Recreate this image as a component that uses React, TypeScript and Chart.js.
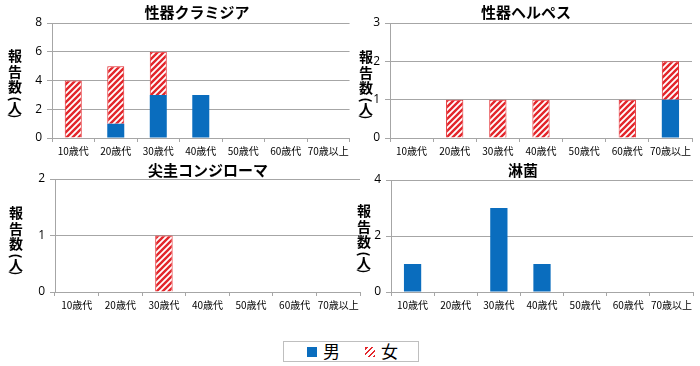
import React, { useEffect, useRef } from 'react';
import { Chart, registerables } from 'chart.js';

Chart.register(...registerables);

// ---- data ----
const AGE_LABELS = ['10歳代', '20歳代', '30歳代', '40歳代', '50歳代', '60歳代', '70歳以上'];
const SERIES_NAMES = ['男', '女'];
// vertical axis title "報告数（人）", drawn one character per row
const Y_TITLE_CHARS = ['報', '告', '数', '(', '人', ')'];

const CHLAMYDIA_TITLE = '性器クラミジア';
const CHLAMYDIA_MALE = [0, 1, 3, 3, 0, 0, 0];
const CHLAMYDIA_FEMALE = [4, 4, 3, 0, 0, 0, 0];

const HERPES_TITLE = '性器ヘルペス';
const HERPES_MALE = [0, 0, 0, 0, 0, 0, 1];
const HERPES_FEMALE = [0, 1, 1, 1, 0, 1, 1];

const CONDYLOMA_TITLE = '尖圭コンジローマ';
const CONDYLOMA_MALE = [0, 0, 0, 0, 0, 0, 0];
const CONDYLOMA_FEMALE = [0, 0, 1, 0, 0, 0, 0];

const GONORRHEA_TITLE = '淋菌';
const GONORRHEA_MALE = [1, 0, 3, 1, 0, 0, 0];
const GONORRHEA_FEMALE = [0, 0, 0, 0, 0, 0, 0];

const Y_MAXES = [8, 3, 2, 4];
const Y_STEPS = [2, 1, 1, 2];

// ---- styles ----
const BLUE = '#0A6DBE';
const RED = '#E3262B';
const GRID = '#A6A6A6';
const CJK = '"Noto Sans CJK JP", "Noto Sans", sans-serif';

const PANELS = [
  { title: CHLAMYDIA_TITLE, male: CHLAMYDIA_MALE, female: CHLAMYDIA_FEMALE, left: 0, top: 0, width: 352, height: 162, axisX: 52, plotTop: 23, plotBottom: 138, plotRight: 350, titleX: 197, titleY: 12, yTitleX: 15, yTitleY: 56 },
  { title: HERPES_TITLE, male: HERPES_MALE, female: HERPES_FEMALE, left: 350, top: 0, width: 350, height: 162, axisX: 40, plotTop: 23, plotBottom: 138, plotRight: 342, titleX: 176, titleY: 12, yTitleX: 16, yTitleY: 57 },
  { title: CONDYLOMA_TITLE, male: CONDYLOMA_MALE, female: CONDYLOMA_FEMALE, left: 0, top: 160, width: 362, height: 160, axisX: 55, plotTop: 19, plotBottom: 132, plotRight: 360, titleX: 208, titleY: 10, yTitleX: 16, yTitleY: 53 },
  { title: GONORRHEA_TITLE, male: GONORRHEA_MALE, female: GONORRHEA_FEMALE, left: 350, top: 160, width: 350, height: 160, axisX: 41, plotTop: 20, plotBottom: 132, plotRight: 343, titleX: 173, titleY: 10, yTitleX: 14, yTitleY: 51 },
];

function makeHatch(): CanvasPattern | string {
  const c = document.createElement('canvas');
  const n = 6;
  c.width = n;
  c.height = n;
  const ctx = c.getContext('2d');
  if (!ctx) return RED;
  ctx.fillStyle = '#ffffff';
  ctx.fillRect(0, 0, n, n);
  ctx.strokeStyle = RED;
  ctx.lineWidth = 2.4;
  ctx.beginPath();
  ctx.moveTo(-1, n + 1);
  ctx.lineTo(n + 1, -1);
  ctx.moveTo(-1, 1);
  ctx.lineTo(1, -1);
  ctx.moveTo(n - 1, n + 1);
  ctx.lineTo(n + 1, n - 1);
  ctx.stroke();
  const p = ctx.createPattern(c, 'repeat');
  return p || RED;
}

function Panel({ idx }: { idx: number }) {
  const ref = useRef<HTMLCanvasElement>(null);
  const p = PANELS[idx];
  useEffect(() => {
    if (!ref.current) return;
    const hatch = makeHatch();
    const textPlugin = {
      id: 'panelText',
      afterDraw(chart: any) {
        const ctx = chart.ctx;
        ctx.save();
        ctx.fillStyle = '#000';
        ctx.textAlign = 'center';
        ctx.textBaseline = 'middle';
        ctx.font = `bold 15px ${CJK}`;
        ctx.fillText(p.title, p.titleX, p.titleY);
        const offs = [0, 15.5, 31, 43, 52, 60];
        Y_TITLE_CHARS.forEach((ch, i) => {
          const y = p.yTitleY + offs[i];
          if (ch === '(' || ch === ')') {
            ctx.save();
            ctx.translate(p.yTitleX, y);
            ctx.rotate(Math.PI / 2);
            ctx.font = `bold 13px ${CJK}`;
            ctx.fillText(ch, 0, 0);
            ctx.restore();
          } else {
            ctx.font = `bold 14px ${CJK}`;
            ctx.fillText(ch, p.yTitleX, y);
          }
        });
        ctx.restore();
      },
    };
    const chart = new Chart(ref.current, {
      type: 'bar',
      data: {
        labels: AGE_LABELS,
        datasets: [
          { label: SERIES_NAMES[0], data: p.male, backgroundColor: BLUE, borderWidth: 0, categoryPercentage: 1, barPercentage: 0.4 },
          { label: SERIES_NAMES[1], data: p.female, backgroundColor: hatch as any, borderColor: RED, borderWidth: 1, categoryPercentage: 1, barPercentage: 0.4 },
        ],
      },
      options: {
        responsive: false,
        animation: false,
        layout: { padding: { left: 0, top: p.plotTop, right: p.width - p.plotRight, bottom: 0 } },
        plugins: { legend: { display: false }, title: { display: false }, tooltip: { enabled: false } },
        scales: {
          x: {
            stacked: true,
            afterFit: (s: any) => { s.height = p.height - p.plotBottom; },
            border: { display: true, color: GRID, width: 1 },
            grid: { display: true, drawOnChartArea: false, drawTicks: true, tickLength: 4, color: GRID, offset: true },
            ticks: { autoSkip: false, maxRotation: 0, minRotation: 0, padding: 3, color: '#000', font: { size: 10, family: CJK } },
          },
          y: {
            stacked: true,
            min: 0,
            max: Y_MAXES[idx],
            afterFit: (s: any) => { s.width = p.axisX; },
            border: { display: true, color: GRID, width: 1 },
            grid: { color: GRID, tickLength: 5, lineWidth: 1 },
            ticks: { stepSize: Y_STEPS[idx], padding: 5, color: '#000', font: { size: 12, family: '"Open Sans", sans-serif' } },
          },
        },
      },
      plugins: [textPlugin],
    });
    return () => chart.destroy();
  }, [idx]);
  return (
    <canvas
      ref={ref}
      width={p.width}
      height={p.height}
      style={{ position: 'absolute', left: p.left, top: p.top, width: p.width, height: p.height }}
    />
  );
}

export default function App() {
  return (
    <div style={{ position: 'absolute', left: 0, top: 0, width: 700, height: 366, background: '#fff', overflow: 'hidden' }}>
      {PANELS.map((_, i) => (
        <Panel key={i} idx={i} />
      ))}
      <div
        style={{
          position: 'absolute', left: 283, top: 341, width: 134, height: 19,
          border: '1px solid #BFBFBF', background: '#fff', fontFamily: CJK,
        }}
      >
        <div style={{ position: 'absolute', left: 23, top: 5, width: 10, height: 10, background: BLUE }} />
        <div style={{ position: 'absolute', left: 39, top: -2, fontSize: 17, lineHeight: '22px', color: '#000' }}>{SERIES_NAMES[0]}</div>
        <div
          style={{
            position: 'absolute', left: 81, top: 5, width: 10, height: 10,
            background: `repeating-linear-gradient(-45deg, ${RED} 0px, ${RED} 1.6px, #fff 1.6px, #fff 4px)`,
          }}
        />
        <div style={{ position: 'absolute', left: 97, top: -2, fontSize: 17, lineHeight: '22px', color: '#000' }}>{SERIES_NAMES[1]}</div>
      </div>
    </div>
  );
}
